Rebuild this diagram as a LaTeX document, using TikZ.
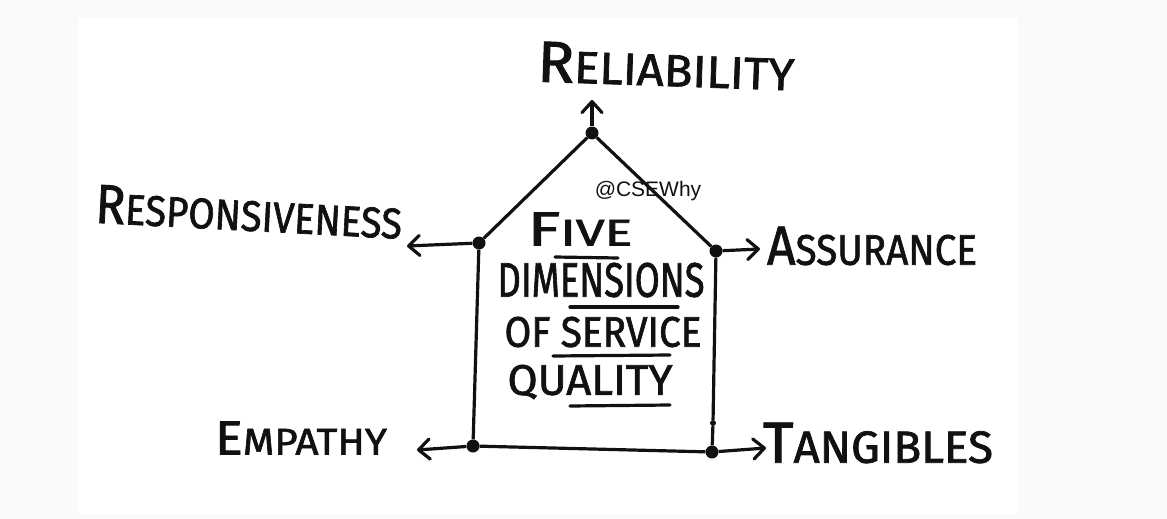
\documentclass[tikz,border=0pt]{standalone}
\usepackage{fontspec}
\usepackage{graphicx}
\setmainfont{Fira Sans}
\newfontfamily\handfont[FakeBold=1.6]{Fira Sans}
\newfontfamily\markfont{Liberation Sans}
\usetikzlibrary{arrows.meta}
\definecolor{ink}{HTML}{111111}
\definecolor{wash}{HTML}{FAFAFA}
\newcommand{\hand}[4]{\resizebox{#1pt}{#2pt}{\handfont{\fontsize{40}{40}\selectfont #3}{\fontsize{31}{31}\selectfont #4}}}

\begin{document}
\begin{tikzpicture}[x=1pt,y=-1pt,
  dot/.style={circle,fill=ink,inner sep=0pt,minimum size=13pt},
  tick/.style={circle,fill=ink,inner sep=0pt,minimum size=6pt},
  wall/.style={ink,line width=3.2pt,line join=round},
  arr/.style={ink,line width=3.2pt,-{Straight Barb[length=11pt,width=20pt,round]}},
  lbl/.style={inner sep=0pt,text=ink},
  uline/.style={ink,line width=3.2pt,line cap=round}]
\useasboundingbox (0,0) rectangle (1167,519);
\fill[wash] (0,0) rectangle (1167,519);
\fill[white] (78,18) rectangle (1018,514);

\node[dot] (apex) at (592,133) {};
\node[dot] (eaveL) at (479,243) {};
\node[dot] (eaveR) at (716,251) {};
\node[dot] (baseL) at (473,446) {};
\node[dot] (baseR) at (712,452) {};
\node[tick] (mark) at (713,423) {};

\draw[wall] (baseL) -- (eaveL) -- (apex) -- (eaveR) -- (mark) -- (baseR) -- (baseL);

\coordinate (relTip) at (592,100);
\coordinate (resTip) at (407,246);
\coordinate (assTip) at (760,249);
\coordinate (empTip) at (417,450);
\coordinate (tanTip) at (766,448);
\draw[arr] (apex) -- (relTip);
\draw[arr] (eaveL) -- (resTip);
\draw[arr] (eaveR) -- (assTip);
\draw[arr] (baseL) -- (empTip);
\draw[arr] (baseR) -- (tanTip);

\node[lbl,rotate=-2] (rel) at (666,66) {\hand{257}{40}{R}{ELIABILITY}};
\node[lbl,rotate=-3] (res) at (249,212) {\hand{307}{38}{R}{ESPONSIVENESS}};
\node[lbl] (ass) at (872,246) {\hand{210}{38}{A}{SSURANCE}};
\node[lbl] (emp) at (301,438) {\hand{172}{33}{E}{MPATHY}};
\node[lbl] (tan) at (878,443) {\hand{230}{40}{T}{ANGIBLES}};

\node[lbl] (five) at (580,229) {\hand{105}{33}{F}{IVE}};
\node[lbl] (dim) at (601,280) {\hand{207}{34}{}{DIMENSIONS}};
\node[lbl] (serv) at (603,332) {\hand{197}{30}{}{OF SERVICE}};
\node[lbl] (qual) at (590,382) {\hand{165}{30}{}{QUALITY}};

\draw[uline] (555,257) -- (618,258);
\draw[uline] (570,307) -- (678,307);
\draw[uline] (553,356) -- (670,355);
\draw[uline] (570,406) -- (670,405);

\node[lbl,font=\markfont\fontsize{21}{21}\selectfont] (tag) at (648,191) {@CSEWhy};
\end{tikzpicture}
\end{document}
